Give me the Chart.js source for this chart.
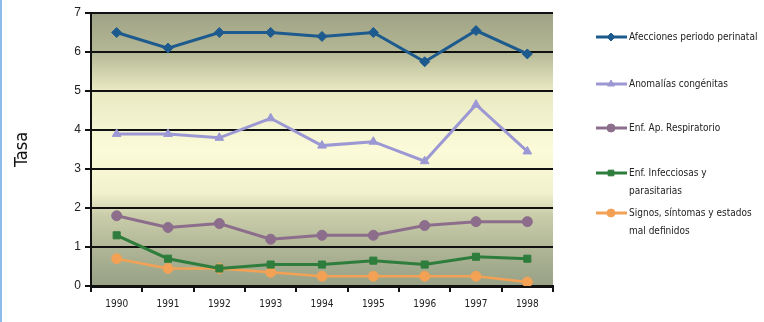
<!DOCTYPE html>
<html>
<head>
<meta charset="utf-8">
<script src="https://cdn.jsdelivr.net/npm/chart.js@4"></script>
<style>
  html, body { margin: 0; padding: 0; background: #ffffff; }
  #wrap { width: 764px; height: 322px; position: relative; }
  #edge { position: absolute; left: 0; top: 0; width: 2px; height: 322px; background: #8cbcec; }
</style>
</head>
<body>
<div id="wrap"><canvas id="tasaChart"></canvas><div id="edge"></div></div>
<script>
// Tasas de mortalidad por causa, 1990-1998

const years = ['1990', '1991', '1992', '1993', '1994', '1995', '1996', '1997', '1998'];

const afecciones = [6.5, 6.1, 6.5, 6.5, 6.4, 6.5, 5.75, 6.55, 5.95];
const anomalias = [3.9, 3.9, 3.8, 4.3, 3.6, 3.7, 3.2, 4.65, 3.45];
const respiratorio = [1.8, 1.5, 1.6, 1.2, 1.3, 1.3, 1.55, 1.65, 1.65];
const infecciosas = [1.3, 0.7, 0.45, 0.55, 0.55, 0.65, 0.55, 0.75, 0.7];
const signos = [0.7, 0.45, 0.45, 0.35, 0.25, 0.25, 0.25, 0.25, 0.1];

const seriesLabels = [
    'Afecciones periodo perinatal',
    'Anomalías congénitas',
    'Enf. Ap. Respiratorio',
    'Enf. Infecciosas y parasitarias',
    'Signos, síntomas y estados mal definidos'
];
// legend text as wrapped in the original
const legendLines = [
    ['Afecciones periodo perinatal'],
    ['Anomalías congénitas'],
    ['Enf. Ap. Respiratorio'],
    ['Enf. Infecciosas y', 'parasitarias'],
    ['Signos, síntomas y estados', 'mal definidos']
];
const legendY = [37, 84, 128, 173, 213];

const seriesColors = ['#1d5a8e', '#9c98d4', '#8c6e8c', '#2f7d3c', '#f2a155'];
const seriesMarkers = ['rectRot', 'triangle', 'circle', 'rect', 'circle'];
const seriesWidths = [3, 3, 3, 3, 2.5];

const narrowFont = '"DejaVu Sans Condensed", "Liberation Sans", sans-serif';

/**
 * Banded gradient behind the plot
 */
const plotBackground = {
    id: 'plotBackground',
    beforeDraw(chart) {
        const { ctx, chartArea: a } = chart;
        const g = ctx.createLinearGradient(0, a.top, 0, a.bottom);
        g.addColorStop(0.00, '#9fa386');
        g.addColorStop(0.14, '#b4b794');
        g.addColorStop(0.28, '#e8e9c2');
        g.addColorStop(0.50, '#fbfbd9');
        g.addColorStop(0.66, '#f1f1cc');
        g.addColorStop(0.74, '#cacdaa');
        g.addColorStop(0.88, '#acb394');
        g.addColorStop(1.00, '#98a186');
        ctx.save();
        ctx.fillStyle = g;
        ctx.fillRect(a.left, a.top, a.right - a.left, a.bottom - a.top);
        ctx.restore();
    }
};

/**
 * Legend on the right, line + marker samples
 */
const sideLegend = {
    id: 'sideLegend',
    afterDraw(chart) {
        const ctx = chart.ctx;
        ctx.save();
        chart.data.datasets.forEach((ds, i) => {
            const y = legendY[i];
            ctx.strokeStyle = ds.borderColor;
            ctx.lineWidth = 3;
            ctx.beginPath();
            ctx.moveTo(596, y);
            ctx.lineTo(627, y);
            ctx.stroke();
            ctx.fillStyle = ds.backgroundColor;
            ctx.lineWidth = 1;
            Chart.helpers.drawPoint(ctx, { pointStyle: ds.pointStyle, radius: 4, borderWidth: 1 }, 611, y);
            ctx.fillStyle = '#222222';
            ctx.font = '10px ' + narrowFont;
            ctx.textBaseline = 'middle';
            legendLines[i].forEach((line, j) => {
                ctx.fillText(line, 629, y + j * 18);
            });
        });
        ctx.restore();
    }
};

const datasets = [afecciones, anomalias, respiratorio, infecciosas, signos].map((values, i) => ({
    label: seriesLabels[i],
    data: values,
    borderColor: seriesColors[i],
    backgroundColor: seriesColors[i],
    borderWidth: seriesWidths[i],
    pointStyle: seriesMarkers[i],
    pointRadius: 5,
    pointBorderWidth: 1,
    tension: 0
}));

new Chart(document.getElementById('tasaChart'), {
    type: 'line',
    data: {
        labels: years,
        datasets: datasets
    },
    options: {
        responsive: true,
        maintainAspectRatio: false,
        animation: false,
        layout: {
            padding: { top: 13, right: 211, left: 0, bottom: 0 }
        },
        plugins: {
            legend: { display: false },
            tooltip: { enabled: false }
        },
        scales: {
            x: {
                offset: true,
                afterFit: (scale) => { scale.height = 36; },
                grid: {
                    offset: true,
                    drawOnChartArea: false,
                    drawTicks: true,
                    tickLength: 6,
                    color: '#111111',
                    lineWidth: 2
                },
                border: { color: '#111111', width: 3 },
                ticks: {
                    color: '#222222',
                    padding: 6,
                    font: { family: narrowFont, size: 10 }
                }
            },
            y: {
                min: 0,
                max: 7,
                afterFit: (scale) => { scale.width = 91; },
                grid: {
                    color: '#111111',
                    lineWidth: 2,
                    tickLength: 6
                },
                border: { color: '#111111', width: 2 },
                ticks: {
                    stepSize: 1,
                    color: '#222222',
                    padding: 4,
                    font: { family: '"Liberation Sans", Arial, sans-serif', size: 12 }
                },
                title: {
                    display: true,
                    text: 'Tasa',
                    color: '#111111',
                    padding: { top: 12, bottom: 0 },
                    font: { family: narrowFont, size: 18 }
                }
            }
        }
    },
    plugins: [plotBackground, sideLegend]
});
</script>
</body>
</html>
